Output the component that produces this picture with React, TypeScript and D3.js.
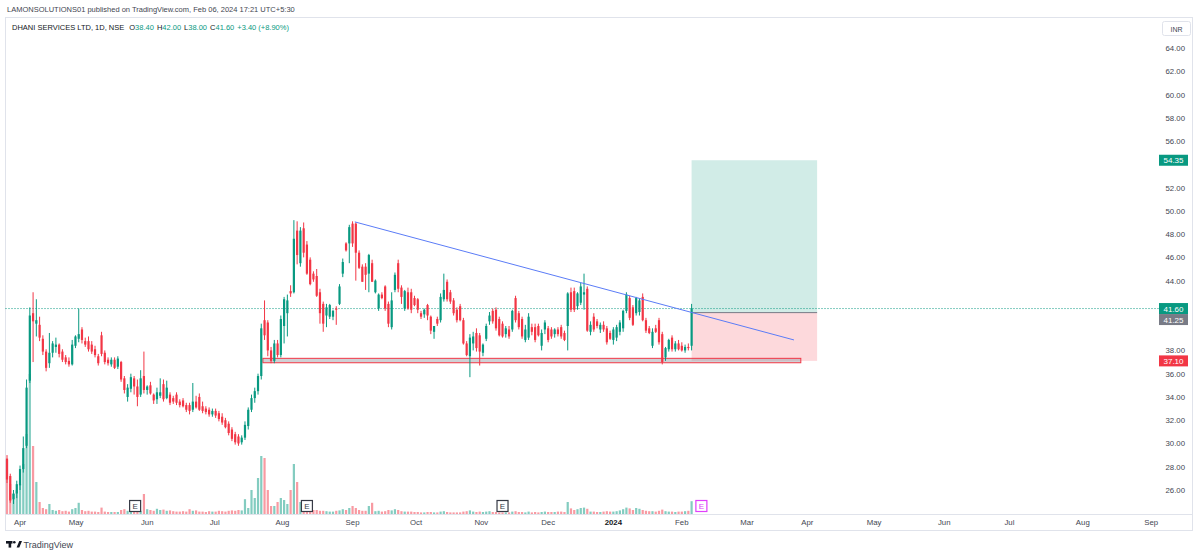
import * as d3 from 'd3';
import * as React from 'react';

/**
 * One daily candle: open, high, low, close.
 */
type Candle = [number, number, number, number];

// daily candles, one array per month
const candlesMar: Candle[] = [
    [28.7, 29.0, 26.6, 26.9], [27.2, 27.4, 24.9, 25.1], [25.2, 26.0, 24.8, 25.7], [25.7, 26.8, 25.3, 26.5],
];
const candlesApr: Candle[] = [
    [26.4, 28.1, 26.0, 27.8], [27.8, 30.6, 27.5, 29.6], [29.8, 35.5, 29.6, 34.8], [35.4, 41.7, 35.2, 41.0],
    [41.2, 43.0, 37.0, 40.5], [40.3, 42.4, 39.2, 40.6], [40.2, 40.9, 38.8, 39.1], [39.0, 39.3, 37.6, 37.9],
    [37.9, 38.1, 36.2, 36.5], [36.9, 39.5, 36.5, 37.8], [37.8, 38.8, 37.4, 38.6], [38.3, 39.1, 37.8, 38.5],
    [38.5, 38.6, 37.4, 37.7], [37.9, 38.1, 37.0, 37.2], [37.4, 37.6, 36.8, 37.0], [37.1, 37.4, 36.6, 36.8],
    [36.8, 38.9, 36.7, 38.5],
];
const candlesMay: Candle[] = [
    [38.4, 39.3, 38.2, 39.2], [39.0, 41.6, 38.7, 39.4], [39.8, 40.0, 38.6, 38.9], [38.8, 39.1, 38.3, 38.5],
    [38.8, 39.2, 37.9, 38.1], [38.5, 38.8, 37.7, 37.9], [38.1, 38.4, 37.4, 37.6], [37.5, 37.7, 36.7, 36.9],
    [39.3, 39.6, 37.5, 37.7], [37.8, 38.0, 36.8, 37.0], [37.2, 37.4, 36.7, 36.9], [36.8, 37.4, 36.6, 37.2],
    [37.2, 37.4, 36.4, 36.5], [36.6, 37.5, 36.4, 37.3], [37.0, 37.1, 35.3, 35.5], [35.6, 35.8, 34.3, 34.6],
    [34.0, 35.1, 33.6, 34.8], [34.7, 36.0, 34.4, 35.7], [35.6, 35.8, 34.2, 34.9], [34.9, 35.5, 33.2, 34.0],
    [34.2, 36.3, 34.0, 35.6], [35.8, 37.9, 34.3, 34.6],
];
const candlesJun: Candle[] = [
    [34.6, 35.0, 34.2, 34.9], [35.0, 35.3, 34.2, 34.3], [34.2, 34.3, 33.4, 33.7], [33.8, 34.8, 33.4, 34.4],
    [34.1, 35.6, 33.9, 34.4], [35.1, 35.5, 33.6, 33.8], [33.9, 35.4, 33.8, 34.8], [34.2, 34.4, 33.3, 33.5],
    [33.9, 34.1, 33.4, 33.6], [34.2, 34.4, 33.3, 33.5], [33.6, 33.8, 33.1, 33.3], [33.7, 33.9, 33.1, 33.2],
    [33.3, 33.5, 32.7, 32.9], [33.3, 33.5, 32.5, 32.8], [32.9, 35.2, 32.7, 33.6], [33.6, 34.1, 33.0, 33.1],
    [34.0, 34.3, 32.8, 32.9], [33.2, 33.6, 32.6, 32.8], [33.0, 33.2, 32.5, 32.7], [32.9, 33.1, 32.3, 32.5],
    [32.5, 33.0, 32.3, 32.8],
];
const candlesJul: Candle[] = [
    [32.8, 33.0, 32.2, 32.4], [32.6, 32.8, 31.9, 32.1], [32.3, 32.6, 31.6, 31.8], [32.0, 32.2, 31.3, 31.4],
    [31.7, 31.9, 30.7, 30.9], [31.2, 31.4, 30.2, 30.4], [30.8, 31.0, 29.9, 30.1], [30.6, 30.8, 29.8, 30.0],
    [30.1, 30.7, 29.9, 30.5], [30.5, 31.9, 30.3, 31.6], [31.5, 33.1, 31.2, 32.9], [32.9, 34.2, 32.7, 33.9],
    [33.9, 34.8, 33.5, 34.5], [34.5, 36.0, 34.2, 35.8], [35.8, 40.3, 35.5, 39.9], [40.6, 42.3, 38.9, 39.3],
    [40.4, 40.6, 37.5, 38.0], [38.0, 38.3, 36.9, 37.1], [37.1, 38.9, 36.9, 38.6], [38.6, 38.9, 37.4, 37.6],
    [37.6, 41.0, 37.4, 40.7],
];
const candlesAug: Candle[] = [
    [40.1, 42.6, 38.6, 42.4], [41.2, 42.8, 39.2, 42.3], [43.1, 43.6, 42.6, 42.9], [43.0, 49.2, 42.9, 47.6],
    [48.3, 49.1, 45.4, 46.2], [45.5, 48.6, 45.2, 48.3], [48.5, 49.0, 46.0, 46.4], [47.1, 47.4, 44.5, 44.6],
    [45.8, 46.0, 43.6, 43.7], [44.6, 44.8, 43.9, 44.1], [44.4, 45.0, 42.6, 42.7], [43.0, 43.3, 40.3, 41.2],
    [42.0, 42.2, 39.6, 40.3], [41.0, 42.0, 40.0, 41.7], [40.9, 42.0, 40.7, 41.9], [40.9, 41.5, 40.6, 41.4],
    [41.6, 41.8, 40.2, 41.5], [42.0, 43.7, 41.9, 43.5], [44.6, 45.9, 44.3, 45.6], [47.2, 47.3, 46.5, 46.6],
    [47.2, 48.8, 45.5, 48.6], [48.9, 49.1, 46.9, 47.2],
];
const candlesSep: Candle[] = [
    [48.9, 49.0, 44.0, 46.4], [46.4, 46.6, 45.0, 45.1], [45.2, 45.4, 43.9, 43.9], [45.2, 45.5, 43.2, 44.5],
    [44.6, 46.3, 43.0, 46.2], [45.5, 45.8, 43.9, 43.9], [43.0, 44.1, 42.9, 44.0], [41.6, 42.9, 41.4, 42.8],
    [42.8, 43.0, 42.4, 42.5], [43.5, 43.6, 41.4, 41.6], [42.0, 42.2, 40.0, 40.3], [40.0, 43.0, 39.8, 42.3],
    [43.2, 44.7, 43.0, 44.5], [45.5, 45.8, 43.0, 43.3], [43.4, 43.6, 42.0, 42.6], [41.6, 43.2, 41.4, 43.1],
    [43.0, 43.4, 41.5, 41.6], [43.0, 43.3, 41.2, 41.5], [42.5, 42.7, 41.8, 41.9],
];
const candlesOct: Candle[] = [
    [42.4, 42.5, 41.2, 41.5], [41.2, 41.4, 40.7, 40.9], [41.1, 41.6, 40.8, 41.5], [41.9, 42.0, 40.6, 41.0],
    [40.9, 41.0, 39.4, 39.7], [39.6, 40.1, 39.0, 40.1], [40.7, 40.9, 40.1, 40.3], [40.6, 42.9, 40.4, 42.6],
    [42.4, 44.6, 42.2, 43.2], [43.9, 44.1, 42.2, 42.4], [43.0, 43.2, 42.0, 42.2], [42.3, 42.5, 41.0, 41.2],
    [41.5, 41.7, 40.4, 40.6], [41.8, 42.0, 40.5, 40.6], [40.6, 40.8, 38.5, 38.6], [38.6, 38.8, 37.5, 37.6],
    [37.5, 39.4, 35.7, 39.1], [38.6, 39.6, 38.0, 39.2], [39.5, 39.9, 37.9, 38.2], [39.3, 39.5, 36.7, 37.9],
];
const candlesNov: Candle[] = [
    [37.8, 38.6, 37.5, 38.5], [39.0, 40.3, 38.8, 40.1], [40.5, 41.3, 40.2, 41.0], [41.4, 41.6, 40.3, 40.5],
    [41.5, 41.7, 39.7, 39.9], [40.7, 40.9, 39.2, 39.3], [40.3, 40.5, 39.1, 39.2], [39.4, 40.1, 39.1, 39.9],
    [39.8, 40.1, 39.0, 39.2], [39.8, 41.5, 39.6, 41.4], [42.5, 42.7, 40.4, 40.6], [41.2, 41.4, 39.8, 40.0],
    [40.7, 40.9, 39.0, 39.2], [38.9, 40.2, 38.7, 39.8], [39.1, 41.2, 38.9, 40.9], [40.0, 40.3, 39.3, 39.6],
    [40.0, 40.3, 38.7, 38.9], [40.1, 40.3, 39.2, 39.3], [38.4, 39.8, 38.0, 39.5], [39.8, 40.6, 39.4, 40.4],
];
const candlesDec: Candle[] = [
    [39.9, 40.1, 38.7, 38.9], [39.8, 40.0, 39.0, 39.2], [39.4, 39.9, 39.1, 39.8], [39.8, 40.0, 39.2, 39.4],
    [40.0, 40.2, 39.0, 39.2], [39.5, 39.7, 38.8, 38.9], [40.1, 43.0, 38.0, 42.9], [43.0, 43.4, 41.3, 41.5],
    [43.1, 43.4, 41.3, 41.5], [41.8, 43.0, 41.5, 42.9], [42.1, 43.8, 41.9, 43.5], [42.8, 44.6, 41.5, 43.0],
    [43.3, 43.5, 39.6, 39.7], [39.6, 40.5, 39.3, 40.2], [40.9, 41.2, 39.6, 39.8], [40.5, 40.7, 39.9, 40.1],
    [39.8, 40.4, 39.5, 40.2], [40.2, 40.5, 39.6, 39.8], [39.9, 40.1, 38.5, 38.7], [39.5, 39.7, 38.9, 39.0],
];
const candlesJan: Candle[] = [
    [38.9, 40.0, 38.5, 39.8], [39.1, 40.2, 38.8, 40.0], [39.6, 40.6, 39.3, 40.4], [39.9, 41.5, 39.6, 41.4],
    [41.4, 43.0, 41.2, 42.8], [42.5, 42.7, 40.6, 40.8], [41.7, 41.9, 40.1, 40.2], [41.2, 42.6, 41.0, 42.5],
    [41.3, 42.5, 41.0, 42.3], [42.6, 42.9, 40.5, 40.6], [40.6, 40.8, 39.5, 39.7], [39.9, 40.1, 39.4, 39.5],
    [38.4, 39.9, 38.2, 39.6], [39.9, 40.2, 39.5, 39.6], [40.6, 40.8, 38.5, 38.7], [39.4, 39.6, 36.8, 37.0],
    [37.4, 38.3, 37.1, 38.2], [38.1, 39.0, 37.9, 38.9], [39.1, 39.3, 37.9, 38.1], [38.1, 38.8, 37.9, 38.6],
    [38.6, 38.9, 38.0, 38.1],
];
const candlesFeb: Candle[] = [
    [38.4, 38.7, 37.9, 38.0], [38.0, 38.5, 37.8, 38.3], [38.3, 38.6, 38.0, 38.2], [38.4, 42.0, 38.0, 41.6],
];

// daily volume (millions of shares), same order as the candles
const volumesMar = [13.5, 7.5, 5.0, 6.0];
const volumesApr = [7.5, 12.5, 20, 35, 17, 8, 3, 1.5, 1.2, 2.5, 1.0, 0.8, 1.0, 0.7, 0.8, 0.6, 1.2];
const volumesMay = [1.5, 2.8, 1.0, 0.7, 0.8, 0.6, 0.6, 0.5, 1.6, 0.6, 0.5, 0.5, 0.5, 0.5, 1.0, 1.2, 0.8, 0.7, 0.6, 0.9, 0.8, 5.0];
const volumesJun = [1.2, 1.0, 0.8, 1.3, 1.0, 1.1, 0.8, 0.9, 0.7, 0.6, 0.6, 0.7, 0.6, 1.2, 0.8, 0.9, 0.6, 0.6, 0.5, 0.7, 0.6];
const volumesJul = [0.6, 0.8, 0.7, 0.6, 0.8, 0.9, 0.8, 1.0, 0.9, 3.7, 1.5, 6.0, 4.0, 9.0, 14.5, 14.0, 6.0, 2.0, 2.0, 3.0, 4.0];
const volumesAug = [3.5, 2.5, 6.0, 12.5, 8.0, 3.0, 2.0, 1.5, 1.2, 1.0, 1.0, 0.8, 0.8, 0.7, 0.6, 0.6, 0.8, 0.9, 1.2, 1.0, 1.5, 2.0];
const volumesSep = [1.5, 1.0, 0.8, 0.8, 2.0, 2.8, 0.7, 0.8, 0.6, 0.7, 1.0, 0.9, 1.2, 1.0, 0.7, 0.6, 0.6, 0.6, 0.5];
const volumesOct = [0.5, 0.4, 0.4, 0.5, 0.5, 0.4, 0.4, 0.6, 0.7, 0.5, 0.4, 0.4, 0.4, 0.4, 0.6, 0.7, 0.9, 0.6, 0.5, 0.6];
const volumesNov = [0.5, 0.6, 0.7, 0.5, 0.5, 0.4, 0.4, 0.4, 0.4, 0.6, 0.7, 0.5, 0.5, 0.4, 0.6, 0.4, 0.5, 0.4, 0.5, 0.6];
const volumesDec = [0.5, 0.5, 0.5, 0.6, 0.6, 0.5, 3.0, 1.4, 1.0, 1.2, 1.5, 1.6, 1.3, 0.6, 0.6, 0.5, 0.5, 0.6, 0.7, 0.6];
const volumesJan = [0.6, 0.7, 0.9, 1.2, 1.6, 1.4, 1.0, 1.5, 1.3, 1.0, 0.8, 0.7, 0.7, 0.6, 0.8, 1.1, 0.7, 0.6, 0.6, 0.5, 0.6];
const volumesFeb = [0.6, 0.7, 0.8, 3.2];

// right axis price labels
const priceTicks = [26, 28, 30, 32, 34, 36, 38, 40, 42, 44, 46, 48, 50, 52, 54, 56, 58, 60, 62, 64];

// bottom axis labels, placed at bar index (future bars continue past the last candle)
const monthTicks = [
    { label: 'Apr', bar: 4 }, { label: 'May', bar: 21.2 }, { label: 'Jun', bar: 43 },
    { label: 'Jul', bar: 63.7 }, { label: 'Aug', bar: 84.5 }, { label: 'Sep', bar: 106 },
    { label: 'Oct', bar: 125.5 }, { label: 'Nov', bar: 145.5 }, { label: 'Dec', bar: 166 },
    { label: '2024', bar: 186 }, { label: 'Feb', bar: 207 }, { label: 'Mar', bar: 227 },
    { label: 'Apr', bar: 245.5 }, { label: 'May', bar: 266 }, { label: 'Jun', bar: 287.5 },
    { label: 'Jul', bar: 307.5 }, { label: 'Aug', bar: 330 }, { label: 'Sep', bar: 351 },
];

// earnings markers (bar index); the last one is upcoming
const earningsBars = [39.3, 92, 152, 213];

// drawings
const trendPoints = [{ bar: 106.7, price: 49.05 }, { bar: 241.4, price: 38.9 }];
const supportZone = { startBar: 78.5, endBar: 243.5, top: 37.32, bottom: 36.94 };
const longPosition = { startBar: 210, endBar: 248.5, entry: 41.25, target: 54.35, stop: 37.10 };
const lastClose = 41.60;

const UP = '#089981';
const DOWN = '#f23645';
const FONT = '"Liberation Sans", Arial, sans-serif';

/**
 * App Component
 */
export default class App extends React.Component {

    public render() {
        const candles = [
            ...candlesMar, ...candlesApr, ...candlesMay, ...candlesJun, ...candlesJul, ...candlesAug,
            ...candlesSep, ...candlesOct, ...candlesNov, ...candlesDec, ...candlesJan, ...candlesFeb,
        ];
        const volumes = [
            ...volumesMar, ...volumesApr, ...volumesMay, ...volumesJun, ...volumesJul, ...volumesAug,
            ...volumesSep, ...volumesOct, ...volumesNov, ...volumesDec, ...volumesJan, ...volumesFeb,
        ];

        const barStep = 3.26;
        const x = d3.scaleLinear().domain([0, 100]).range([7, 7 + 100 * barStep]);
        const y = d3.scaleLinear().domain([26, 64]).range([490, 48]);
        const yVol = d3.scaleLinear().domain([0, 35]).range([514, 374]);
        const bodyW = 2.2;
        const axisX = 1185;
        const fmt = d3.format('.2f');

        const trend = d3.line<{ bar: number; price: number }>()
            .x(d => x(d.bar))
            .y(d => y(d.price));

        // badge centres on the price axis
        const badges = [
            { price: longPosition.target, color: UP, cy: y(longPosition.target) },
            { price: lastClose, color: UP, cy: y(lastClose) },
            { price: longPosition.entry, color: '#787b86', cy: y(lastClose) + 11 },
            { price: longPosition.stop, color: DOWN, cy: y(longPosition.stop) },
        ];
        // tick labels hidden under a badge are not drawn
        const visibleTicks = priceTicks.filter(p => badges.every(b => Math.abs(y(p) - b.cy) > 9.5));

        return (
            <svg
                width={1200}
                height={555}
                style={{ position: 'absolute', left: 0, top: 0, background: '#fff', fontFamily: FONT }}
            >
                <text x={7} y={12} fontSize={7.5} fill="#434651">
                    LAMONSOLUTIONS01 published on TradingView.com, Feb 06, 2024 17:21 UTC+5:30
                </text>

                {/* chart frame */}
                <rect x={5.5} y={17.5} width={1187} height={513} fill="none" stroke="#e0e3eb" />
                <line x1={5.5} x2={1192.5} y1={514.5} y2={514.5} stroke="#e0e3eb" />

                <text x={12} y={30} fontSize={7.5} fill="#131722">
                    DHANI SERVICES LTD, 1D, NSE
                    <tspan dx={5}>O</tspan><tspan fill={UP}>38.40</tspan>
                    <tspan dx={3}>H</tspan><tspan fill={UP}>42.00</tspan>
                    <tspan dx={3}>L</tspan><tspan fill={UP}>38.00</tspan>
                    <tspan dx={3}>C</tspan><tspan fill={UP}>41.60</tspan>
                    <tspan dx={3} fill={UP}>+3.40 (+8.90%)</tspan>
                </text>

                {/* volume */}
                <g>
                    {volumes.map((v, i) => {
                        const c = candles[i];
                        return (
                            <rect
                                key={'v' + i}
                                x={x(i) - bodyW / 2}
                                y={yVol(v)}
                                width={bodyW}
                                height={yVol(0) - yVol(v)}
                                fill={c[3] >= c[0] ? UP : DOWN}
                                fillOpacity={0.5}
                            />
                        );
                    })}
                </g>

                {/* long position tool */}
                <rect
                    x={x(longPosition.startBar)}
                    y={y(longPosition.target)}
                    width={x(longPosition.endBar) - x(longPosition.startBar)}
                    height={y(longPosition.entry) - y(longPosition.target)}
                    fill={UP}
                    fillOpacity={0.19}
                />
                <rect
                    x={x(longPosition.startBar)}
                    y={y(longPosition.entry)}
                    width={x(longPosition.endBar) - x(longPosition.startBar)}
                    height={y(longPosition.stop) - y(longPosition.entry)}
                    fill={DOWN}
                    fillOpacity={0.19}
                />
                <line
                    x1={x(longPosition.startBar)}
                    x2={x(longPosition.endBar)}
                    y1={y(longPosition.entry)}
                    y2={y(longPosition.entry)}
                    stroke="#787b86"
                    strokeWidth={1}
                />

                {/* support zone */}
                <rect
                    x={x(supportZone.startBar)}
                    y={y(supportZone.top)}
                    width={x(supportZone.endBar) - x(supportZone.startBar)}
                    height={y(supportZone.bottom) - y(supportZone.top)}
                    fill="#9598a1"
                    fillOpacity={0.45}
                    stroke={DOWN}
                    strokeWidth={1}
                />

                {/* last close line */}
                <line
                    x1={5.5}
                    x2={1159}
                    y1={y(lastClose)}
                    y2={y(lastClose)}
                    stroke={UP}
                    strokeDasharray="1,2"
                />

                {/* candles */}
                <g>
                    {candles.map((c, i) => {
                        const [o, h, l, cl] = c;
                        const color = cl >= o ? UP : DOWN;
                        const top = y(Math.max(o, cl));
                        const bot = y(Math.min(o, cl));
                        return (
                            <g key={'c' + i}>
                                <line x1={x(i)} x2={x(i)} y1={y(h)} y2={y(l)} stroke={color} strokeWidth={1} />
                                <rect
                                    x={x(i) - bodyW / 2}
                                    y={top}
                                    width={bodyW}
                                    height={Math.max(1, bot - top)}
                                    fill={color}
                                />
                            </g>
                        );
                    })}
                </g>

                {/* trend line */}
                <path d={trend(trendPoints) || ''} fill="none" stroke="#5b7cf7" strokeWidth={1} />

                {/* earnings */}
                {earningsBars.map((b, i) => {
                    const upcoming = i === earningsBars.length - 1;
                    const col = upcoming ? '#e040fb' : '#363a45';
                    return (
                        <g key={'e' + i}>
                            <rect x={x(b) - 5.5} y={500.5} width={11} height={11} fill="#fff" stroke={col} strokeWidth={1.2} />
                            <text x={x(b)} y={509} textAnchor="middle" fontSize={8} fill={col}>E</text>
                        </g>
                    );
                })}

                {/* price axis */}
                <g fontSize={7.8} fill="#434651" textAnchor="end">
                    {visibleTicks.map(p => (
                        <text key={'p' + p} x={axisX} y={y(p) + 3}>{fmt(p)}</text>
                    ))}
                </g>
                <rect x={1162.5} y={21.5} width={28} height={14} rx={2} fill="#fff" stroke="#e0e3eb" />
                <text x={1176.5} y={31.5} textAnchor="middle" fontSize={7} fill="#434651">INR</text>

                {badges.map((b, i) => (
                    <g key={'b' + i}>
                        <rect x={1159} y={b.cy - 5.5} width={29} height={11} fill={b.color} />
                        <text x={1173.5} y={b.cy + 3} textAnchor="middle" fontSize={8} fill="#fff">{fmt(b.price)}</text>
                    </g>
                ))}

                {/* time axis */}
                <g fontSize={7.8} textAnchor="middle">
                    {monthTicks.map((t, i) => (
                        <text
                            key={'m' + i}
                            x={x(t.bar)}
                            y={525}
                            fontWeight={t.label === '2024' ? 'bold' : 'normal'}
                            fill={t.label === '2024' ? '#131722' : '#434651'}
                        >
                            {t.label}
                        </text>
                    ))}
                </g>

                {/* TradingView logo */}
                <g fill="#131722">
                    <rect x={6} y={541} width={6.5} height={2.6} />
                    <rect x={8.6} y={541} width={2.6} height={6.6} />
                    <circle cx={14.3} cy={542.3} r={1.3} />
                    <path d="M16.6,547.6 L19.3,541 L22,541 L19.3,547.6 Z" />
                </g>
                <text x={23.5} y={547.5} fontSize={9} fill="#434651">TradingView</text>
            </svg>
        );
    }
}
